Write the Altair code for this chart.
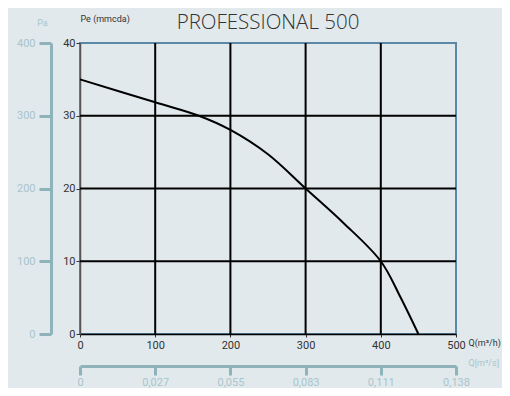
import altair as alt
import pandas as pd

# Main performance curve: Q (m3/h) vs Pe (mmcda)
q_m3h = [0, 100, 158, 200, 250, 300, 350, 400, 425, 450]
pe_mmcda = [35, 31.85, 30.0, 28.05, 24.7, 20.0, 15.3, 10.0, 5.3, 0]

x_ticks = [0, 100, 200, 300, 400, 500]
y_ticks = [0, 10, 20, 30, 40]
x_grid = [100, 200, 300, 400]
y_grid = [10, 20, 30]
pa_labels = ["0", "100", "200", "300", "400"]
qs_labels = ["0", "0,027", "0,055", "0,083", "0,111", "0,138"]
title_text = ["PROFESSIONAL 500"]

curve = pd.DataFrame({"q": q_m3h, "pe": pe_mmcda})
vgrid = pd.DataFrame({"q": x_grid})
hgrid = pd.DataFrame({"pe": y_grid})
anchor = pd.DataFrame({"q": [0, 500], "pe": [0, 40]})
tdf = pd.DataFrame({"t": title_text})

xs = alt.Scale(domain=[0, 500], nice=False, zero=False)
ys = alt.Scale(domain=[0, 40], nice=False, zero=False)

FONT = "Roboto"
TEAL = "#8fb3bb"
TEAL_TXT = "#a9c5cc"

vlines = alt.Chart(vgrid).mark_rule(color="black", strokeWidth=2).encode(
    x=alt.X("q:Q", scale=xs, axis=None)
)
hlines = alt.Chart(hgrid).mark_rule(color="black", strokeWidth=2).encode(
    y=alt.Y("pe:Q", scale=ys, axis=None)
)

line = alt.Chart(curve).mark_line(color="black", strokeWidth=2, interpolate="catmull-rom").encode(
    x=alt.X("q:Q", scale=xs, axis=alt.Axis(
        values=x_ticks, orient="bottom", domainColor="black", domainWidth=1.5,
        tickColor="#333", tickSize=3, labelColor="#333", labelFontSize=11,
        labelFont=FONT, labelPadding=2, grid=False, labelFlush=False,
        title="Q(m³/h)", titleFont=FONT, titleFontSize=9, titleFontWeight="normal",
        titleColor="#333", titleAngle=0, titleAlign="left", titleBaseline="middle",
        titleX=388, titleY=8)),
    y=alt.Y("pe:Q", scale=ys, axis=alt.Axis(
        values=y_ticks, orient="left", domainColor="#555", domainWidth=1.5,
        tickColor="#333", tickSize=4, labelColor="#333", labelFontSize=11,
        labelFont=FONT, labelPadding=1, grid=False, labelFlush=False,
        title="Pe (mmcda)", titleFont=FONT, titleFontSize=9, titleFontWeight="normal",
        titleColor="#333", titleAngle=0, titleAlign="left", titleBaseline="middle",
        titleX=0, titleY=-25)),
)

pa_expr = "[" + ",".join(f"'{s}'" for s in pa_labels) + "][round(datum.value/10)]"
qs_expr = "[" + ",".join(f"'{s}'" for s in qs_labels) + "][round(datum.value/100)]"

secondary = alt.Chart(anchor).mark_point(opacity=0).encode(
    x=alt.X("q:Q", scale=xs, axis=alt.Axis(
        values=x_ticks, orient="bottom", offset=32, domainColor=TEAL, domainWidth=3,
        tickColor=TEAL, tickWidth=3, tickSize=9, labelColor=TEAL_TXT, labelFontSize=11,
        labelFont=FONT, labelPadding=1, grid=False, labelFlush=False, labelExpr=qs_expr,
        title="Q[m³/s]", titleFont=FONT, titleFontSize=9, titleFontWeight="normal",
        titleColor=TEAL_TXT, titleAngle=0, titleAlign="left", titleBaseline="middle",
        titleX=388, titleY=-4)),
    y=alt.Y("pe:Q", scale=ys, axis=alt.Axis(
        values=y_ticks, orient="left", offset=29, domainColor=TEAL, domainWidth=3,
        tickColor=TEAL, tickWidth=3, tickSize=12, labelColor=TEAL_TXT, labelFontSize=11,
        labelFont=FONT, labelPadding=4, grid=False, labelFlush=False, labelExpr=pa_expr,
        title="Pa", titleFont=FONT, titleFontSize=9, titleFontWeight="normal",
        titleColor=TEAL_TXT, titleAngle=0, titleAlign="center", titleBaseline="middle",
        titleX=-9, titleY=-21)),
)

title = alt.Chart(tdf).mark_text(
    font="Open Sans", fontSize=20.5, fontWeight=300, color="#333",
    align="center", baseline="alphabetic"
).encode(x=alt.value(188), y=alt.value(-14), text="t:N")

chart = alt.layer(vlines, hlines, line, secondary, title).resolve_axis(
    x="independent", y="independent"
).properties(
    width=376, height=291,
    autosize=alt.AutoSizeParams(type="none"),
    background="#e1e9ec",
    padding={"left": 72, "top": 35, "right": 46, "bottom": 54},
).configure_view(stroke="#5b88a6", strokeWidth=2)

chart.save("out.html", embed_options={"renderer": "svg", "actions": False})
